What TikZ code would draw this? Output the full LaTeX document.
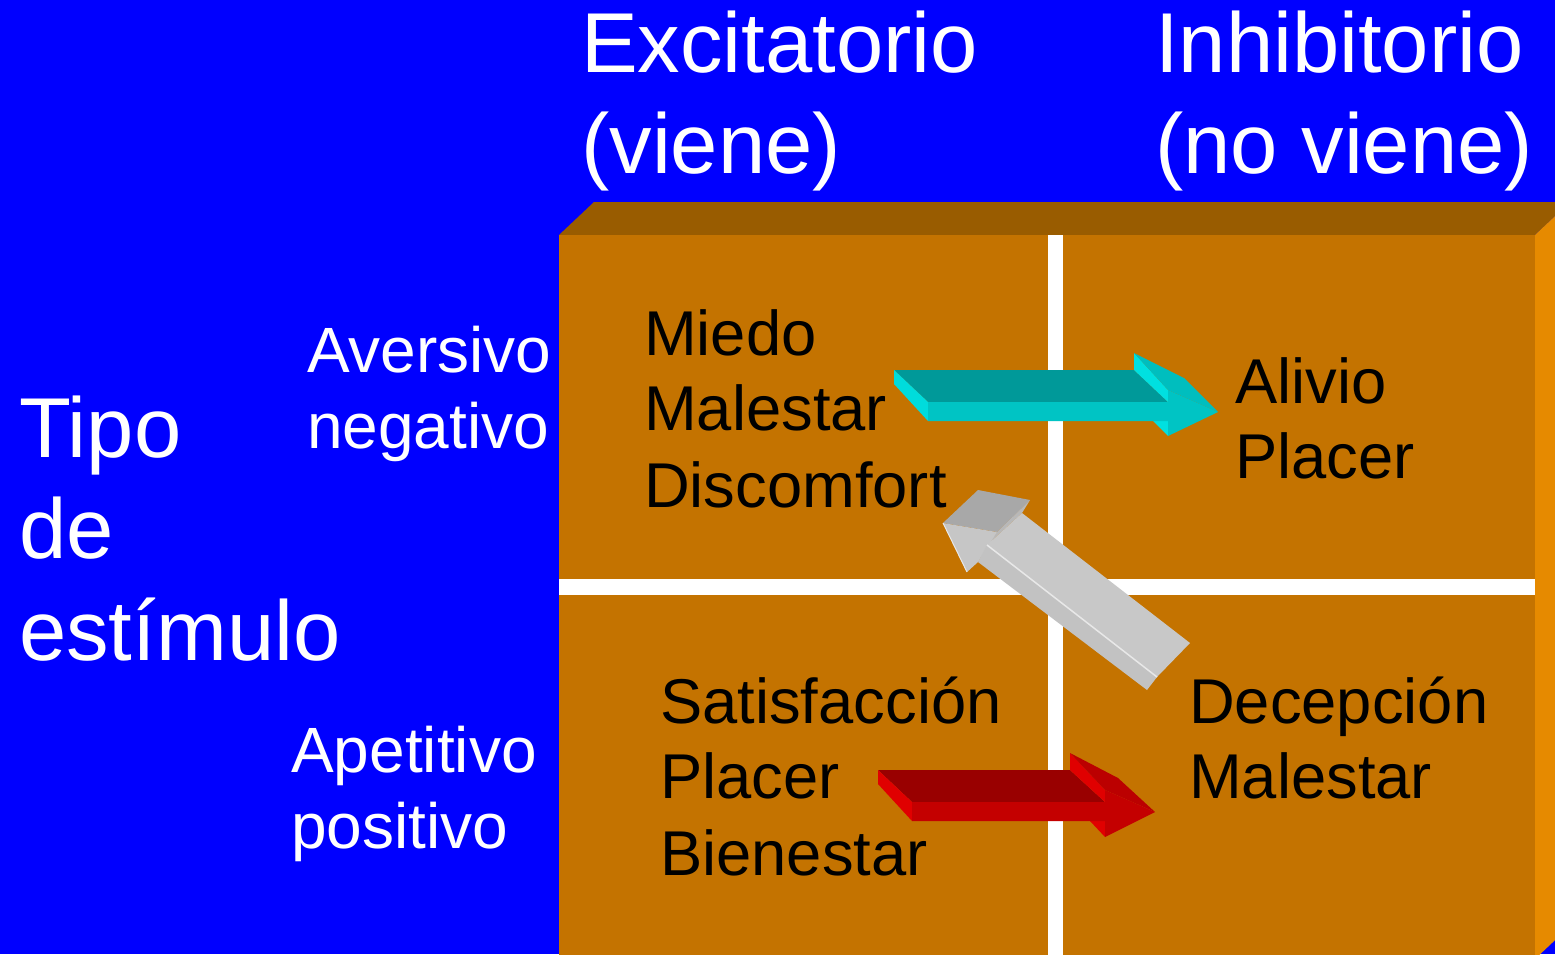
\documentclass[tikz,border=0pt]{standalone}
\usepackage{fontspec}
\setmainfont{Liberation Sans}
\definecolor{bg}{HTML}{0000FF}
\definecolor{boxfront}{HTML}{C47300}
\definecolor{boxtop}{HTML}{995C00}
\definecolor{boxright}{HTML}{E68A00}
\definecolor{cyTop}{HTML}{009999}
\definecolor{cyFront}{HTML}{00C4C4}
\definecolor{cyEnd}{HTML}{00DCDC}
\definecolor{cyFlap}{HTML}{00E0E0}
\definecolor{cySlant}{HTML}{00BEBE}
\definecolor{rdTop}{HTML}{990000}
\definecolor{rdFront}{HTML}{C40000}
\definecolor{rdEnd}{HTML}{E00000}
\definecolor{rdFlap}{HTML}{E00000}
\definecolor{rdSlant}{HTML}{BB0000}
\definecolor{gyDark}{HTML}{A8A8A8}
\definecolor{gyMid}{HTML}{B8B8B8}
\definecolor{gyLight}{HTML}{C6C6C6}
\definecolor{gyBody}{HTML}{C8C8C8}
\definecolor{gyStrip}{HTML}{C2C2C2}
\definecolor{gyEdge}{HTML}{E8E8E8}
\begin{document}
\begin{tikzpicture}[x=1pt,y=-1pt,
  bigtxt/.style={font=\fontsize{85}{100}\selectfont, text=white, anchor=base west, inner sep=0pt},
  sidetxt/.style={font=\fontsize{64}{76}\selectfont, text=white, anchor=base west, inner sep=0pt},
  celltxt/.style={font=\fontsize{63.3}{76}\selectfont, text=black, anchor=base west, inner sep=0pt}]
\path[use as bounding box] (0,0) rectangle (1555,954);
\clip (0,0) rectangle (1555,954);
\fill[bg] (0,0) rectangle (1555,954);
% box
\fill[boxtop] (559,235)--(594,202)--(1570,202)--(1535,235)--cycle;
\fill[boxright] (1535,235)--(1570,202)--(1570,926)--(1535,959)--cycle;
\fill[boxfront] (559,235) rectangle (1535,970);
% white dividers
\fill[white] (1048,235) rectangle (1063,970);
\fill[white] (559,579) rectangle (1535,595);
% cyan arrow
\fill[cyTop] (894,370)--(1134,370)--(1168,402)--(928,402)--cycle;
\fill[cyEnd] (894,370)--(928,402)--(928,421)--(894,384)--cycle;
\fill[cyFlap] (1134,353)--(1168,390)--(1168,402)--(1134,370)--cycle;
\fill[cySlant] (1134,353)--(1184,378)--(1218,412)--(1168,390)--cycle;
\fill[cyFlap] (1153,421)--(1168,436)--(1168,421)--cycle;
\fill[cyFront] (928,402)--(1168,402)--(1168,390)--(1218,412)--(1168,436)--(1168,421)--(928,421)--cycle;
% red arrow
\fill[rdTop] (878,770)--(1070,770)--(1105,802)--(912,802)--cycle;
\fill[rdEnd] (878,770)--(912,802)--(912,821)--(878,784)--cycle;
\fill[rdFlap] (1070,753)--(1105,790)--(1105,802)--(1070,770)--cycle;
\fill[rdSlant] (1070,753)--(1118,778)--(1155,812)--(1105,790)--cycle;
\fill[rdFlap] (1090,821)--(1105,837)--(1105,821)--cycle;
\fill[rdFront] (912,802)--(1105,802)--(1105,790)--(1155,812)--(1105,837)--(1105,821)--(912,821)--cycle;
% gray arrow
\fill[gyDark] (978,490)--(1030,500)--(997,532)--(943,523)--cycle;
\fill[gyMid] (1030,500)--(1022,513)--(987,545)--(997,532)--cycle;
\fill[gyLight] (943,523)--(997,532)--(978,562)--(967,572)--cycle;
\fill[gyBody] (1022,513)--(1190,643)--(1157,677)--(987,545)--cycle;
\fill[gyStrip] (987,545)--(1157,677)--(1147,690)--(978,562)--cycle;
\draw[gyEdge, line width=1.5pt] (987,545)--(1157,677);
\draw[gyEdge, line width=1pt] (943,523)--(967,572);
% header texts
\node[bigtxt] (exc1) at (581,72) {Excitatorio};
\node[bigtxt] (exc2) at (581,173) {(viene)};
\node[bigtxt] (inh1) at (1155,72) {Inhibitorio};
\node[bigtxt] (inh2) at (1155,173) {(no viene)};
\node[bigtxt] (tip1) at (19,457) {Tipo};
\node[bigtxt] (tip2) at (19,558) {de};
\node[bigtxt] (tip3) at (19,660) {estímulo};
\node[sidetxt] (av1) at (307,372) {Aversivo};
\node[sidetxt] (av2) at (307,448) {negativo};
\node[sidetxt] (ap1) at (291,772) {Apetitivo};
\node[sidetxt] (ap2) at (291,848) {positivo};
% cell texts
\node[celltxt] (c11a) at (644,355) {Miedo};
\node[celltxt] (c11b) at (644,430) {Malestar};
\node[celltxt] (c11c) at (644,507) {Discomfort};
\node[celltxt] (c12a) at (1235,403) {Alivio};
\node[celltxt] (c12b) at (1235,478) {Placer};
\node[celltxt] (c21a) at (660,723) {Satisfacción};
\node[celltxt] (c21b) at (660,798) {Placer};
\node[celltxt] (c21c) at (660,875) {Bienestar};
\node[celltxt] (c22a) at (1189,723) {Decepción};
\node[celltxt] (c22b) at (1189,798) {Malestar};
\end{tikzpicture}
\end{document}
